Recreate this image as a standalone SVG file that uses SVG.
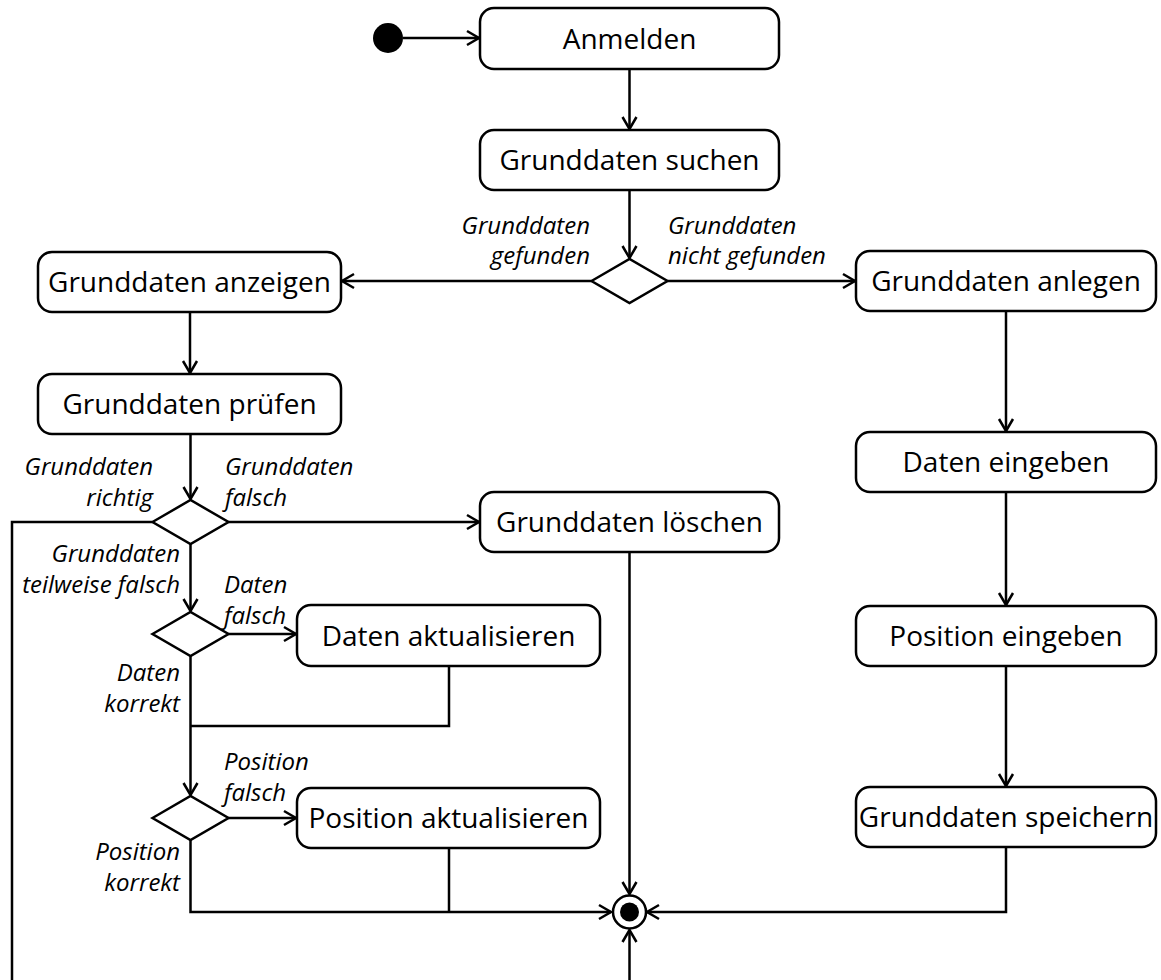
<svg xmlns="http://www.w3.org/2000/svg" width="1161" height="980" viewBox="0 0 1161 980">
  <defs>
    <marker id="open" markerUnits="userSpaceOnUse" markerWidth="20" markerHeight="20" viewBox="-14 -10 16 20" refX="0" refY="0" orient="auto" overflow="visible">
      <path d="M-12,-7 L0,0 L-12,7" fill="none" stroke="#000" stroke-width="2.5" stroke-linejoin="miter"/>
    </marker>
    <style>
      .box { fill: #fff; stroke: #000; stroke-width: 2.5; }
      .dec { fill: #fff; stroke: #000; stroke-width: 2.5; stroke-linejoin: miter; }
      .lbl { font-family: "Open Sans", "Noto Sans", sans-serif; font-size: 28px; fill: #000; text-anchor: middle; }
      .g { font-family: "Open Sans", "Noto Sans", sans-serif; font-size: 24px; font-style: italic; fill: #000; }
      .r { text-anchor: end; }
      .l { text-anchor: start; }
      .c { fill: none; stroke: #000; stroke-width: 2.5; }
      .a { marker-end: url(#open); }
    </style>
  </defs>
  <rect width="1161" height="980" fill="#fff"/>

  <!-- connectors -->
  <g id="connectors">
    <path class="c a" d="M403,38 H479"/>
    <path class="c a" d="M629.5,69 V129"/>
    <path class="c a" d="M629.5,190 V258"/>
    <path class="c a" d="M591.5,281 H342"/>
    <path class="c a" d="M667.5,281 H855"/>
    <path class="c a" d="M190,312 V373"/>
    <path class="c a" d="M190.5,434 V499"/>
    <path class="c a" d="M228.5,522 H479"/>
    <path class="c" d="M152.5,522 H12 V985"/>
    <path class="c a" d="M190.5,544 V611"/>
    <path class="c a" d="M228.5,634 H296"/>
    <path class="c" d="M449,666 V726 H190.5"/>
    <path class="c a" d="M190.5,656 V795"/>
    <path class="c a" d="M228.5,818 H296"/>
    <path class="c" d="M449,848 V912"/>
    <path class="c a" d="M190.5,840 V912 H611"/>
    <path class="c a" d="M629.5,552 V894"/>
    <path class="c a" d="M1006,847 V912 H647"/>
    <path class="c a" d="M629.5,985 V930"/>
    <path class="c a" d="M1006,311 V431"/>
    <path class="c a" d="M1006,492 V605"/>
    <path class="c a" d="M1006,666 V786"/>
  </g>

  <!-- start / end -->
  <g id="start"><circle cx="388" cy="38" r="15" fill="#000"/></g>
  <g id="end">
    <circle cx="629.5" cy="912" r="16.5" fill="#fff" stroke="#000" stroke-width="2.5"/>
    <circle cx="629.5" cy="912" r="9.5" fill="#000"/>
  </g>

  <!-- actions -->
  <g id="anmelden"><rect class="box" x="480" y="8" width="299" height="61" rx="14"/><text class="lbl" x="629.5" y="48.5">Anmelden</text></g>
  <g id="grunddaten-suchen"><rect class="box" x="480" y="130" width="299" height="60" rx="14"/><text class="lbl" x="629.5" y="170">Grunddaten suchen</text></g>
  <g id="grunddaten-anzeigen"><rect class="box" x="38" y="252" width="303" height="60" rx="14"/><text class="lbl" x="189.5" y="292">Grunddaten anzeigen</text></g>
  <g id="grunddaten-anlegen"><rect class="box" x="856" y="251" width="300" height="60" rx="14"/><text class="lbl" x="1006" y="291">Grunddaten anlegen</text></g>
  <g id="grunddaten-pruefen"><rect class="box" x="38" y="374" width="303" height="60" rx="14"/><text class="lbl" x="189.5" y="414">Grunddaten prüfen</text></g>
  <g id="grunddaten-loeschen"><rect class="box" x="480" y="492" width="299" height="60" rx="14"/><text class="lbl" x="629.5" y="532">Grunddaten löschen</text></g>
  <g id="daten-eingeben"><rect class="box" x="856" y="432" width="300" height="60" rx="14"/><text class="lbl" x="1006" y="472">Daten eingeben</text></g>
  <g id="daten-aktualisieren"><rect class="box" x="297" y="605" width="303" height="61" rx="14"/><text class="lbl" x="448.5" y="645.5">Daten aktualisieren</text></g>
  <g id="position-eingeben"><rect class="box" x="856" y="606" width="300" height="60" rx="14"/><text class="lbl" x="1006" y="646">Position eingeben</text></g>
  <g id="position-aktualisieren"><rect class="box" x="297" y="788" width="303" height="60" rx="14"/><text class="lbl" x="448.5" y="828">Position aktualisieren</text></g>
  <g id="grunddaten-speichern"><rect class="box" x="856" y="787" width="300" height="60" rx="14"/><text class="lbl" x="1006" y="827">Grunddaten speichern</text></g>

  <!-- decisions -->
  <g id="decision-gefunden"><path class="dec" d="M591.5,281 L629.5,259 L667.5,281 L629.5,303 Z"/></g>
  <g id="decision-pruefung"><path class="dec" d="M152.5,522 L190.5,500 L228.5,522 L190.5,544 Z"/></g>
  <g id="decision-daten"><path class="dec" d="M152.5,634 L190.5,612 L228.5,634 L190.5,656 Z"/></g>
  <g id="decision-position"><path class="dec" d="M152.5,818 L190.5,796 L228.5,818 L190.5,840 Z"/></g>

  <!-- guards -->
  <g id="guards">
    <text class="g r" x="590" y="234">Grunddaten</text>
    <text class="g r" x="590" y="264">gefunden</text>
    <text class="g l" x="668" y="234">Grunddaten</text>
    <text class="g l" x="668" y="264">nicht gefunden</text>
    <text class="g r" x="153" y="475">Grunddaten</text>
    <text class="g r" x="153" y="506">richtig</text>
    <text class="g l" x="225" y="475">Grunddaten</text>
    <text class="g l" x="225" y="506">falsch</text>
    <text class="g r" x="180" y="562">Grunddaten</text>
    <text class="g r" x="180" y="593">teilweise falsch</text>
    <text class="g l" x="224" y="593">Daten</text>
    <text class="g l" x="224" y="624">falsch</text>
    <text class="g r" x="180" y="681">Daten</text>
    <text class="g r" x="180" y="712">korrekt</text>
    <text class="g l" x="224" y="770">Position</text>
    <text class="g l" x="224" y="801">falsch</text>
    <text class="g r" x="180" y="860">Position</text>
    <text class="g r" x="180" y="891">korrekt</text>
  </g>
</svg>
